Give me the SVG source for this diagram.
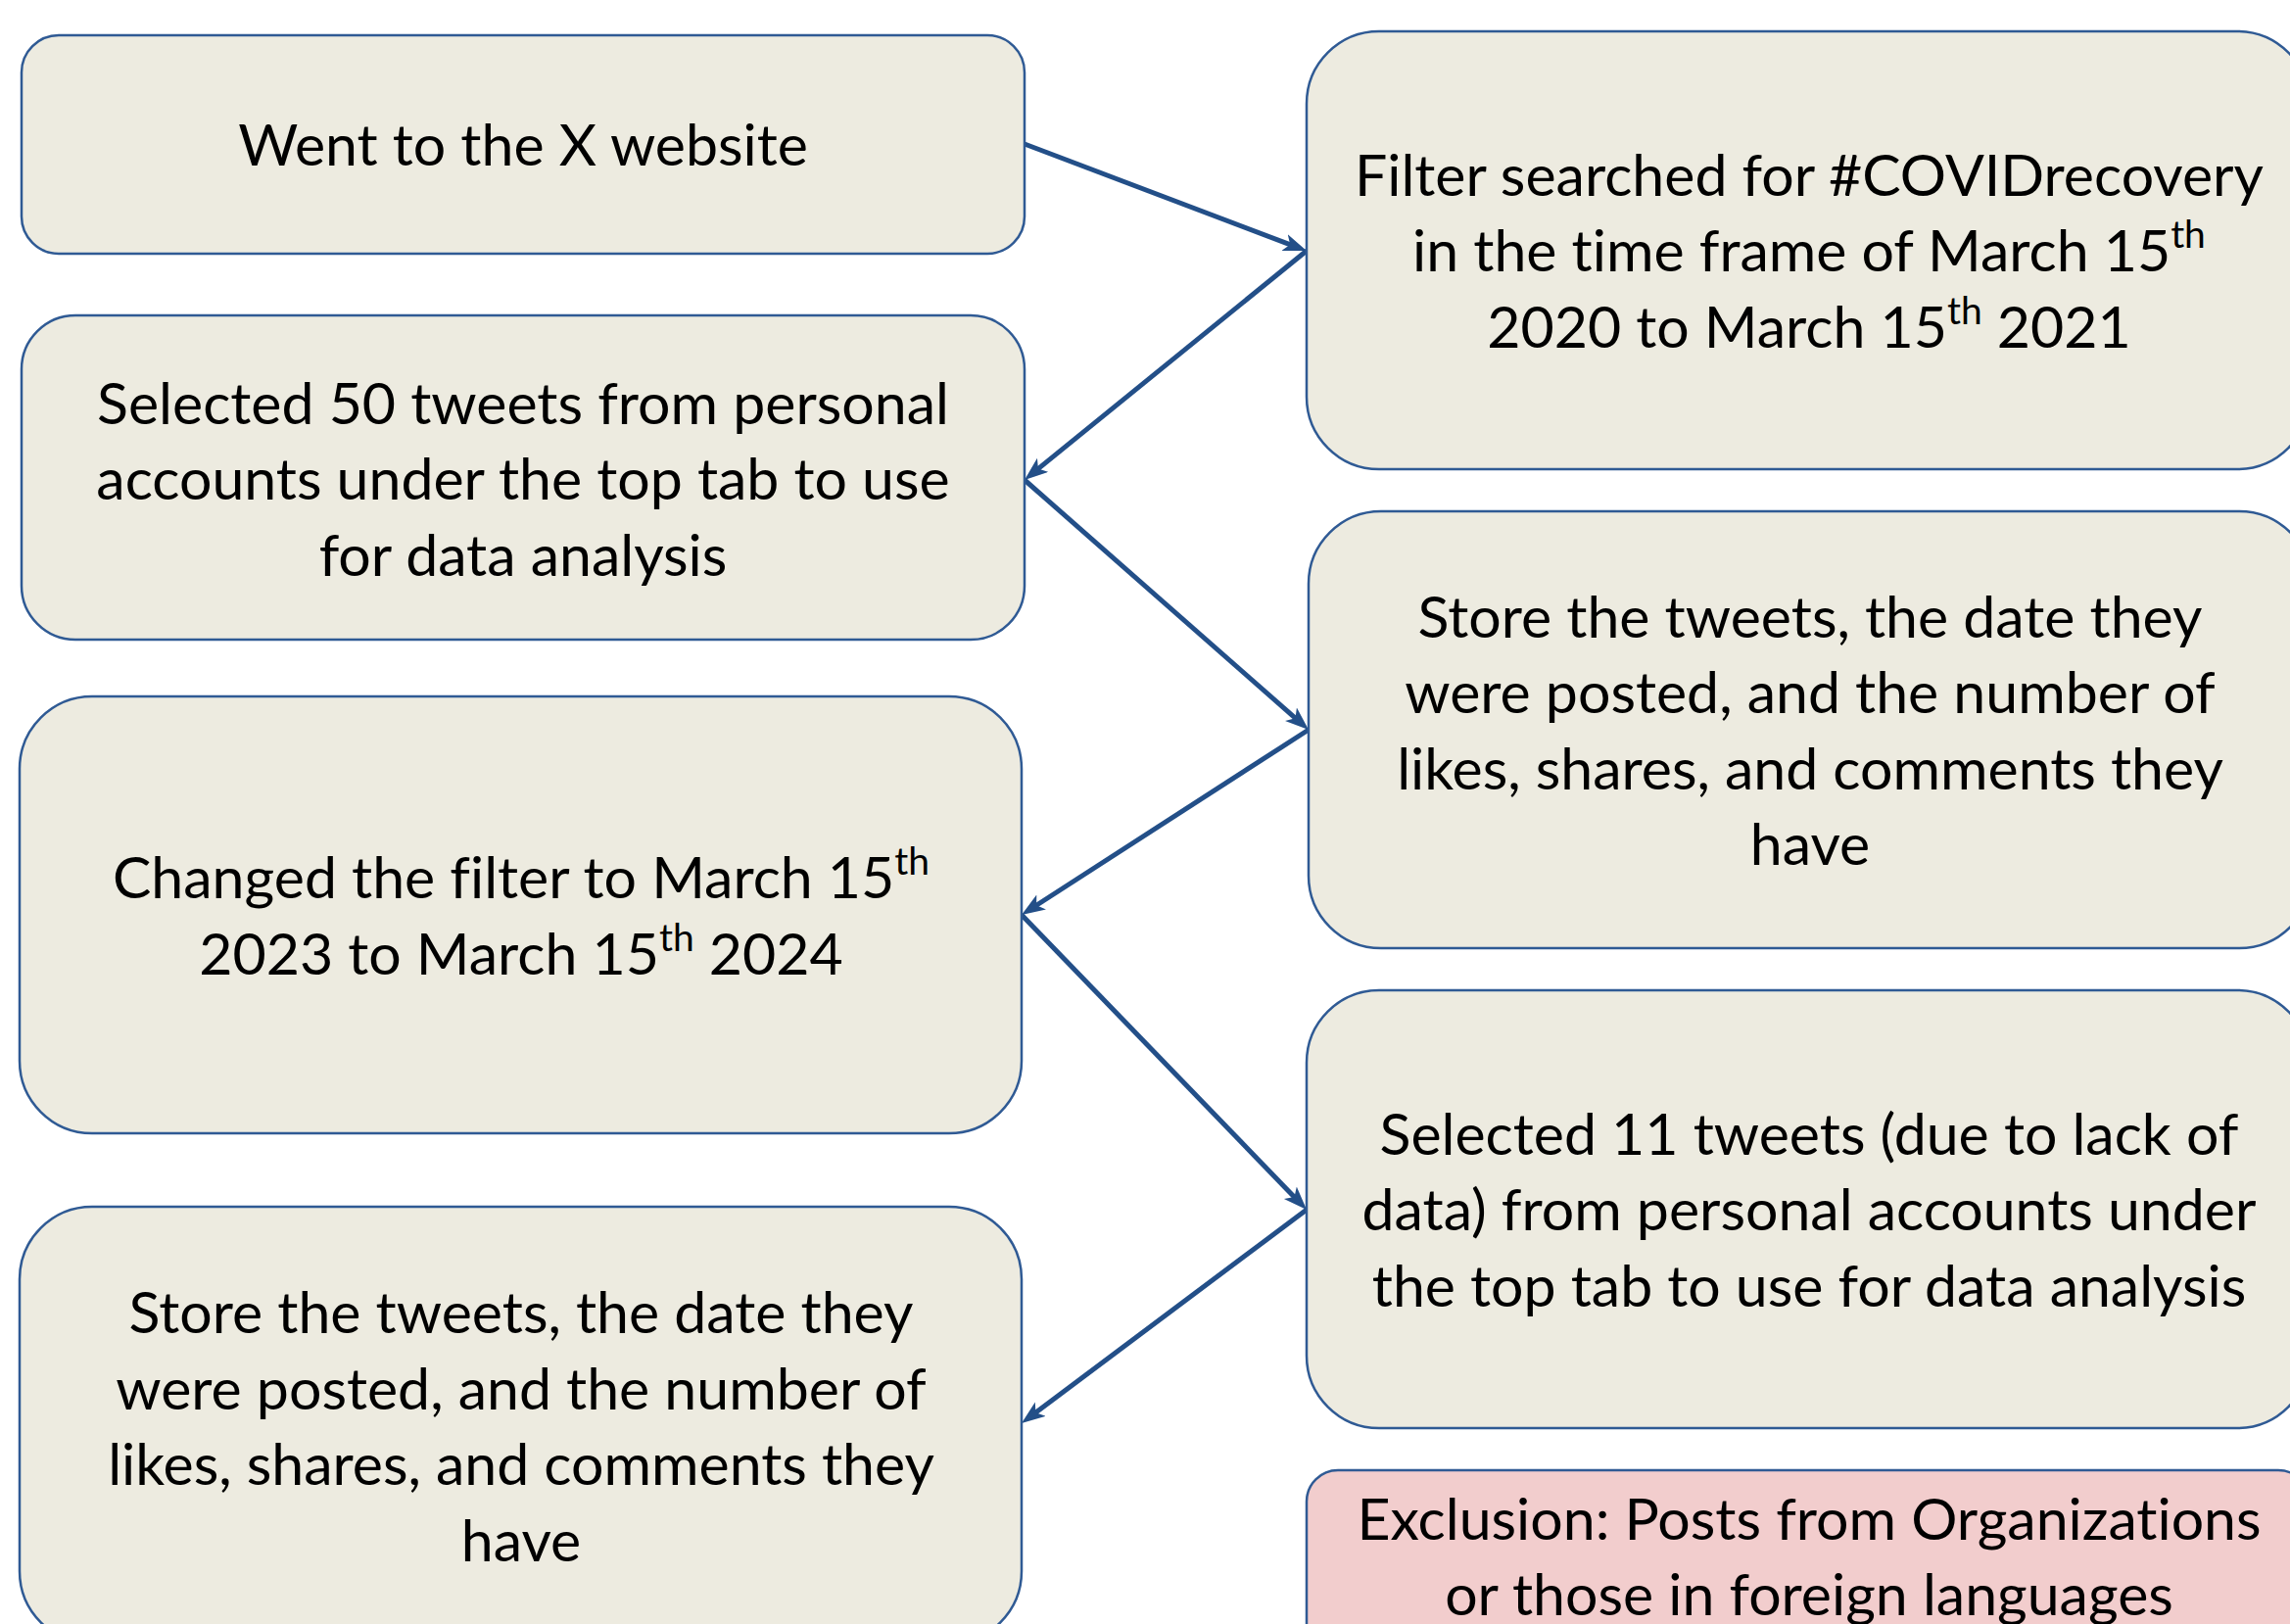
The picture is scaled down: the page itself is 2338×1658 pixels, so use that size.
<svg xmlns="http://www.w3.org/2000/svg" width="2338" height="1658" viewBox="0 0 2338 1658">
<style>
.box{fill:#EDEBE0;stroke:#2F5A94;stroke-width:2.5}
.ex{fill:#F2CDCD;stroke:#2F5A94;stroke-width:2.5}
.t{font-family:Lato,"Open Sans","Liberation Sans",sans-serif;font-size:59px;fill:#000;text-anchor:middle;font-variant-ligatures:none;font-feature-settings:"liga" 0,"dlig" 0}
.sup{font-size:39px}
.c{stroke:#234F88;stroke-width:5;fill:none;marker-end:url(#ah)}
</style>
<defs>
<marker id="ah" markerUnits="userSpaceOnUse" markerWidth="26" markerHeight="20" refX="12" refY="9" orient="auto">
<path d="M0,0 L24,9 L0,18 L6,9 Z" fill="#234F88"/>
</marker>
</defs>
<rect width="2338" height="1658" fill="#fff"/>
<g id="connectors">
<line class="c" x1="1046" y1="147" x2="1322.8" y2="251.8"/>
<line class="c" x1="1334" y1="256" x2="1055.3" y2="482.4"/>
<line class="c" x1="1046" y1="490" x2="1327" y2="737.1"/>
<line class="c" x1="1336" y1="745" x2="1053.1" y2="927.5"/>
<line class="c" x1="1043" y1="934" x2="1325.7" y2="1226.4"/>
<line class="c" x1="1334" y1="1235" x2="1052.6" y2="1445.8"/>
</g>
<g id="n1">
<rect class="box" x="22" y="36" width="1024" height="223" rx="38"/>
<text class="t" x="534" y="169">Went to the X website</text>
</g>
<g id="n2">
<rect class="box" x="22" y="322" width="1024" height="331" rx="55"/>
<text class="t" x="534" y="433">Selected 50 tweets from personal</text>
<text class="t" x="534" y="510">accounts under the top tab to use</text>
<text class="t" x="534" y="588">for data analysis</text>
</g>
<g id="n3">
<rect class="box" x="20" y="711" width="1023" height="446" rx="74"/>
<text class="t" x="532" y="917">Changed the filter to March 15<tspan class="sup" dy="-24">th</tspan></text>
<text class="t" x="532" y="995">2023 to March 15<tspan class="sup" dy="-24">th</tspan><tspan dy="24"> 2024</tspan></text>
</g>
<g id="n4">
<rect class="box" x="20" y="1232" width="1023" height="446" rx="74"/>
<text class="t" x="532" y="1361">Store the tweets, the date they</text>
<text class="t" x="532" y="1439">were posted, and the number of</text>
<text class="t" x="532" y="1516">likes, shares, and comments they</text>
<text class="t" x="532" y="1594">have</text>
</g>
<g id="n5">
<rect class="box" x="1334" y="32" width="1024" height="447" rx="74"/>
<text class="t" x="1847" y="200">Filter searched for #COVIDrecovery</text>
<text class="t" x="1847" y="277">in the time frame of March 15<tspan class="sup" dy="-24">th</tspan></text>
<text class="t" x="1847" y="355">2020 to March 15<tspan class="sup" dy="-24">th</tspan><tspan dy="24"> 2021</tspan></text>
</g>
<g id="n6">
<rect class="box" x="1336" y="522" width="1024" height="446" rx="74"/>
<text class="t" x="1848" y="651">Store the tweets, the date they</text>
<text class="t" x="1848" y="728">were posted, and the number of</text>
<text class="t" x="1848" y="806">likes, shares, and comments they</text>
<text class="t" x="1848" y="883">have</text>
</g>
<g id="n7">
<rect class="box" x="1334" y="1011" width="1024" height="447" rx="74"/>
<text class="t" x="1847" y="1179">Selected 11 tweets (due to lack of</text>
<text class="t" x="1847" y="1256">data) from personal accounts under</text>
<text class="t" x="1847" y="1334">the top tab to use for data analysis</text>
</g>
<g id="n8">
<rect class="ex" x="1334" y="1501" width="1024" height="190" rx="32"/>
<text class="t" x="1847" y="1572">Exclusion: Posts from Organizations</text>
<text class="t" x="1847" y="1649">or those in foreign languages</text>
</g>
</svg>
